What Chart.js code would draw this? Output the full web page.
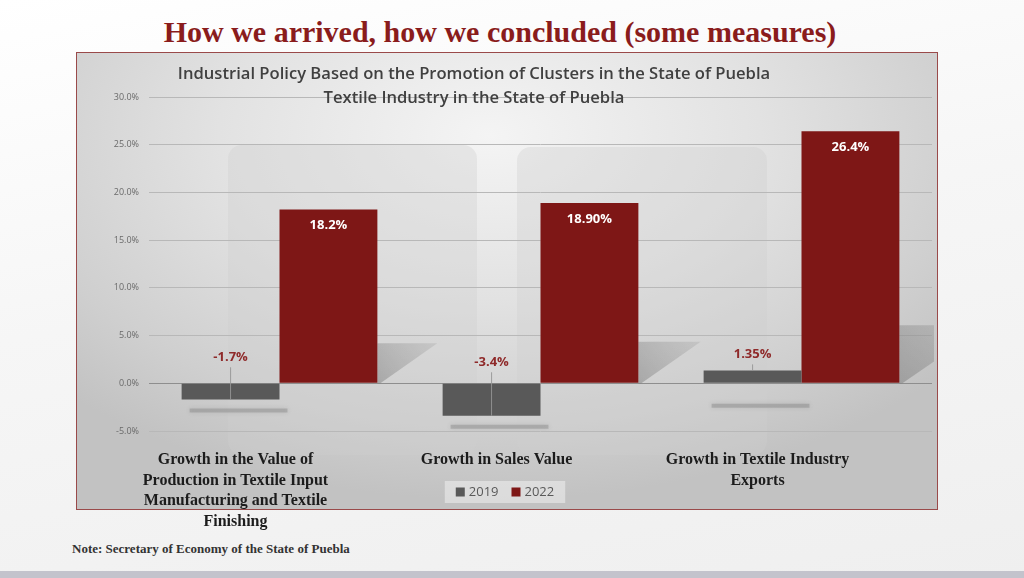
<!DOCTYPE html>
<html>
<head>
<meta charset="utf-8">
<script src="https://cdn.jsdelivr.net/npm/chart.js@4.4.0/dist/chart.umd.min.js"></script>
<style>
  html, body { margin:0; padding:0; }
  body { width:1024px; height:578px; position:relative; overflow:hidden;
         background: linear-gradient(170deg, #ffffff 0%, #f6f6f6 45%, #efefef 100%); font-family:"Liberation Serif", serif; }
  #pageTitle { position:absolute; left:0; width:1000px; top:15px; text-align:center;
         font-family:"Liberation Serif", serif; font-weight:bold; font-size:30px; color:#8a1c1c; }
  #panel { position:absolute; left:76px; top:52px; width:860px; height:456px; border:1px solid #9a4a4a;
         background: radial-gradient(ellipse 70% 80% at 48% 18%, #f4f4f4 0%, #e2e2e2 45%, #cfcfcf 80%, #c2c2c2 100%); }
  .deco { position:absolute; border-radius:14px; background:rgba(205,205,205,0.35); }
  #note { position:absolute; left:72px; top:541px; font-family:"Liberation Serif", serif; font-weight:bold; font-size:13px; color:#333; }
  #stripe { position:absolute; left:0; top:571px; width:1024px; height:7px; background:#c3c3cc; }
  #wrap { position:absolute; left:76px; top:52px; width:862px; height:482px; }
</style>
</head>
<body>
<div id="pageTitle">How we arrived, how we concluded (some measures)</div>
<div id="panel"></div>
<div class="deco" style="left:228px; top:145px; width:249px; height:310px;"></div>
<div class="deco" style="left:517px; top:147px; width:250px; height:308px;"></div>
<div id="wrap"><canvas id="c"></canvas></div>
<div id="note">Note: Secretary of Economy of the State of Puebla</div>
<div id="stripe"></div>
<script>
const categories = [
  ["Growth in the Value of", "Production in Textile Input", "Manufacturing and Textile", "Finishing"],
  ["Growth in Sales Value"],
  ["Growth in Textile Industry", "Exports"]
];
const seriesNames = ["2019", "2022"];
const values2019 = [-1.7, -3.4, 1.35];
const values2022 = [18.2, 18.9, 26.4];
const labels2019 = ["-1.7%", "-3.4%", "1.35%"];
const labels2022 = ["18.2%", "18.90%", "26.4%"];
const chartTitleLines = ["Industrial Policy Based on the Promotion of Clusters in the State of Puebla",
                         "Textile Industry in the State of Puebla"];
const yMin = -5, yMax = 30, yStep = 5;

const GRAY = "#595959", RED = "#7e1716";

const shadowPlugin = {
  id: "shadows",
  beforeDatasetsDraw(chart) {
    const ctx = chart.ctx;
    const y0 = chart.scales.y.getPixelForValue(0);
    const ca = chart.chartArea;
    ctx.save();
    ctx.beginPath(); ctx.rect(ca.left, ca.top, ca.right - ca.left + 2, ca.bottom - ca.top); ctx.clip();
    chart.getDatasetMeta(1).data.forEach(el => {
      const h = (y0 - el.y) * 0.23;
      const r = el.x + el.width / 2;
      const g = ctx.createLinearGradient(r, y0, r + h * 1.5, y0 - h);
      g.addColorStop(0, "rgba(90,90,90,0.35)");
      g.addColorStop(1, "rgba(130,130,130,0.18)");
      ctx.fillStyle = g;
      ctx.beginPath();
      ctx.moveTo(r, y0 - h);
      ctx.lineTo(r + h * 1.5, y0 - h);
      ctx.lineTo(r + 3, y0);
      ctx.lineTo(r, y0);
      ctx.closePath();
      ctx.fill();
    });
    chart.getDatasetMeta(0).data.forEach(el => {
      const bottom = Math.max(el.y, el.base);
      const yy = bottom + (el.y > el.base ? 11 : 23);
      ctx.strokeStyle = "rgba(120,120,120,0.35)";
      ctx.lineWidth = 4;
      ctx.shadowColor = "rgba(100,100,100,0.5)";
      ctx.shadowBlur = 4;
      ctx.beginPath();
      ctx.moveTo(el.x - el.width / 2 + 8, yy);
      ctx.lineTo(el.x + el.width / 2 + 8, yy);
      ctx.stroke();
    });
    ctx.restore();
  }
};

const labelPlugin = {
  id: "valueLabels",
  afterDatasetsDraw(chart) {
    const ctx = chart.ctx;
    const y0 = chart.scales.y.getPixelForValue(0);
    ctx.save();
    ctx.textAlign = "center";
    ctx.textBaseline = "middle";
    ctx.font = "bold 13px 'Open Sans', sans-serif";
    chart.getDatasetMeta(1).data.forEach((el, i) => {
      ctx.fillStyle = "#ffffff";
      ctx.fillText(labels2022[i], el.x, el.y + 16);
    });
    chart.getDatasetMeta(0).data.forEach((el, i) => {
      const v = values2019[i];
      const ly = v < 0 ? y0 - 26 + (v < -3 ? 5 : 0) : el.y - 16;
      ctx.strokeStyle = "rgba(150,150,150,0.9)";
      ctx.lineWidth = 1;
      ctx.beginPath();
      ctx.moveTo(el.x, ly + 10);
      ctx.lineTo(el.x, el.y);
      ctx.stroke();
      ctx.fillStyle = "#8f2a2a";
      ctx.fillText(labels2019[i], el.x, ly);
    });
    ctx.restore();
  }
};

const overlayPlugin = {
  id: "overlay",
  afterDraw(chart) {
    const ctx = chart.ctx;
    ctx.save();
    // chart title (drawn over the plot, as in the original)
    ctx.fillStyle = "#404040";
    ctx.textAlign = "center";
    ctx.textBaseline = "middle";
    ctx.font = "600 16.6px 'Open Sans', sans-serif";
    ctx.fillText(chartTitleLines[0], 398, 22);
    ctx.fillText(chartTitleLines[1], 398, 46);
    // legend, placed between the category labels
    const items = chart.data.datasets.map(d => ({ text: d.label, color: d.backgroundColor }));
    ctx.font = "13px 'Open Sans', sans-serif";
    const box = 9, gapBoxText = 4, gapItems = 13;
    let total = 0;
    items.forEach((it, i) => { total += box + gapBoxText + ctx.measureText(it.text).width + (i ? gapItems : 0); });
    const cx = 505 - 76, cy = 492 - 52;
    ctx.fillStyle = "rgba(240,240,240,0.55)";
    ctx.fillRect(cx - total / 2 - 11, cy - 11, total + 22, 22);
    let x = cx - total / 2;
    items.forEach((it, i) => {
      if (i) x += gapItems;
      ctx.fillStyle = it.color;
      ctx.fillRect(x, cy - box / 2, box, box);
      x += box + gapBoxText;
      ctx.fillStyle = "#595959";
      ctx.textAlign = "left";
      ctx.fillText(it.text, x, cy + 0.5);
      x += ctx.measureText(it.text).width;
    });
    ctx.restore();
  }
};

new Chart(document.getElementById("c"), {
  type: "bar",
  data: {
    labels: categories,
    datasets: [
      { label: seriesNames[0], data: values2019, backgroundColor: GRAY, borderWidth: 0 },
      { label: seriesNames[1], data: values2022, backgroundColor: RED, borderWidth: 0 }
    ]
  },
  options: {
    responsive: true,
    maintainAspectRatio: false,
    animation: false,
    layout: { padding: { top: 45, right: 6, left: 0, bottom: 3 } },
    datasets: { bar: { barPercentage: 1.0, categoryPercentage: 0.75 } },
    scales: {
      x: {
        grid: { display: false, drawTicks: false },
        border: { display: false },
        ticks: {
          color: "#1c1c1c",
          font: { family: "'Liberation Serif', serif", weight: "bold", size: 16, lineHeight: "20.5px" },
          labelOffset: -44,
          padding: 19,
          maxRotation: 0,
          autoSkip: false
        },
        afterFit(axis) { axis.height = 100; }
      },
      y: {
        min: yMin, max: yMax,
        grid: {
          drawTicks: false,
          color: ctx => ctx.tick && ctx.tick.value === 0 ? "#8e8e8e" : "#b8b8b8",
          lineWidth: 1
        },
        border: { display: false },
        ticks: {
          stepSize: yStep,
          padding: 10,
          color: "#6a6a6a",
          font: { family: "'Open Sans', sans-serif", size: 9 },
          callback: v => v.toFixed(1) + "%"
        },
        afterFit(axis) { axis.width = 73; }
      }
    },
    plugins: {
      title: { display: false },
      tooltip: { enabled: false },
      legend: { display: false }
    }
  },
  plugins: [shadowPlugin, labelPlugin, overlayPlugin]
});
</script>
</body>
</html>
